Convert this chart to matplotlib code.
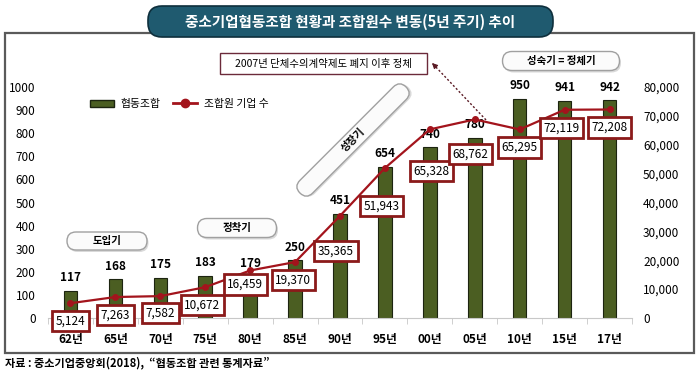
import matplotlib
matplotlib.use("Agg")
import matplotlib.pyplot as plt
from matplotlib.patches import FancyBboxPatch, Patch, Rectangle
from matplotlib.lines import Line2D
from matplotlib.transforms import Affine2D
from matplotlib.ticker import FuncFormatter

plt.rcParams['font.family'] = ['Noto Sans CJK KR', 'DejaVu Sans']

# data
years = ["62년", "65년", "70년", "75년", "80년", "85년", "90년",
         "95년", "00년", "05년", "10년", "15년", "17년"]
unions = [117, 168, 175, 183, 179, 250, 451, 654, 740, 780, 950, 941, 942]
members = [5124, 7263, 7582, 10672, 16459, 19370, 35365,
           51943, 65328, 68762, 65295, 72119, 72208]

# where each member-count box sits relative to its point (pixels)
member_offsets = [(0, -18), (0, -18), (0, -17), (-3, -18), (-5, -14), (-2, -18), (-4, -35),
                  (-3, -38), (2, -42), (-4, -35), (0, -18), (-3, -18), (0, -18)]

bar_color = "#4b5e22"
line_color = "#a3141c"
box_edge = "#8b1a1a"

fig = plt.figure(figsize=(7, 3.71), dpi=100)
ax = fig.add_axes([48/700, 53/371, 584/700, 231/371])
x = list(range(len(years)))

ax.bar(x, unions, width=0.3, color=bar_color, edgecolor="#1c2410", lw=0.8)
ax.set_ylim(0, 1000)
ax.set_xlim(-0.5, len(years) - 0.5)
for i, v in enumerate(unions):
    ax.annotate(str(v), (i, v), xytext=(0, 13), textcoords="offset pixels",
                ha="center", va="center", fontsize=8.5, fontweight="bold")

ax.set_yticks(range(0, 1001, 100))
ax.tick_params(axis="y", length=0, pad=9, labelsize=8.5)
ax.set_xticks(x, years)
ax.tick_params(axis="x", length=0, pad=11, labelsize=8.5)
for lbl in ax.get_xticklabels():
    lbl.set_fontweight("bold")
ax.set_xticks([i - 0.5 for i in range(len(years) + 1)], minor=True)
ax.tick_params(axis="x", which="minor", length=4, color="#c8c8c8")
for s in ["top", "left", "right"]:
    ax.spines[s].set_visible(False)
ax.spines["bottom"].set_color("#c8c8c8")

ax2 = ax.twinx()
ax2.plot(x, members, color=line_color, lw=1.6, marker="o", ms=4, zorder=3)
ax2.set_ylim(0, 80000)
ax2.set_yticks(range(0, 80001, 10000))
ax2.yaxis.set_major_formatter(FuncFormatter(lambda v, p: f"{int(v):,}"))
ax2.tick_params(axis="y", length=0, pad=8, labelsize=8.5)
for s in ax2.spines.values():
    s.set_visible(False)
for i, v in enumerate(members):
    dx, dy = member_offsets[i]
    ax2.annotate(f"{v:,}", (i, v), xytext=(dx, dy), textcoords="offset pixels",
                 ha="center", va="center", fontsize=8.5, zorder=5,
                 bbox=dict(boxstyle="square,pad=0.3", fc="white", ec=box_edge, lw=2))

handles = [Patch(fc=bar_color, ec="#1c2410", label="협동조합"),
           Line2D([], [], color=line_color, lw=2, marker="o", ms=6, label="조합원 기업 수")]
ax2.legend(handles=handles, loc="center left", bbox_to_anchor=(0.055, 0.926), ncol=2,
           frameon=False, fontsize=7.8, handlelength=2.2, columnspacing=1.2, handletextpad=0.6)

# overlay in pixel coords for frame, title and notes
ov = fig.add_axes([0, 0, 1, 1])
ov.set_xlim(0, 700)
ov.set_ylim(371, 0)
ov.axis("off")

ov.add_patch(Rectangle((5, 33), 689, 320, fill=False, ec="#5a5a5a", lw=1.6))
ov.add_patch(FancyBboxPatch((148, 6), 405, 31, boxstyle="round,pad=0,rounding_size=14",
                            fc="#1f5a6f", ec="#0e2f3c", lw=1.2))
ov.text(350, 21.5, "중소기업협동조합 현황과 조합원수 변동(5년 주기) 추이", color="white",
        ha="center", va="center", fontsize=10.5, fontweight="bold")


def pill(cx, cy, w, h, text, angle=0):
    tr = Affine2D().rotate_deg_around(cx, cy, -angle) + ov.transData
    style = f"round,pad=0,rounding_size={h/2}"
    ov.add_patch(FancyBboxPatch((cx - w/2 + 1.5, cy - h/2 + 2), w, h, boxstyle=style,
                                fc="#d9d9d9", ec="none", transform=tr))
    ov.add_patch(FancyBboxPatch((cx - w/2, cy - h/2), w, h, boxstyle=style,
                                fc="#fbfbfb", ec="#a0a0a0", lw=1, transform=tr))
    ov.text(cx, cy, text, rotation=angle, rotation_mode="anchor", ha="center", va="center",
            fontsize=7.5, fontweight="bold")


pill(107, 241, 80, 18, "도입기")
pill(237, 228, 79, 19, "정착기")
pill(353, 140, 150, 18, "성장기", angle=45)
pill(561, 61, 117, 19, "성숙기 = 정체기")

ov.add_patch(Rectangle((220, 53), 207, 21, fc="white", ec="#6b2a3a", lw=1))
ov.text(323.5, 63.5, "2007년 단체수의계약제도 폐지 이후 정체", ha="center", va="center", fontsize=7.5)
ov.plot([433, 487], [64, 121], ls=(0, (1.5, 1.5)), color="#5a1a24", lw=1)
ov.annotate("", xy=(430, 61), xytext=(437, 68),
            arrowprops=dict(arrowstyle="-|>", color="#5a1a24", lw=0.8, mutation_scale=8))

ov.text(5, 363, "자료 : 중소기업중앙회(2018),  “협동조합 관련 통계자료”", ha="left", va="center",
        fontsize=8, fontweight="bold")

fig.savefig("out.png", dpi=100)
